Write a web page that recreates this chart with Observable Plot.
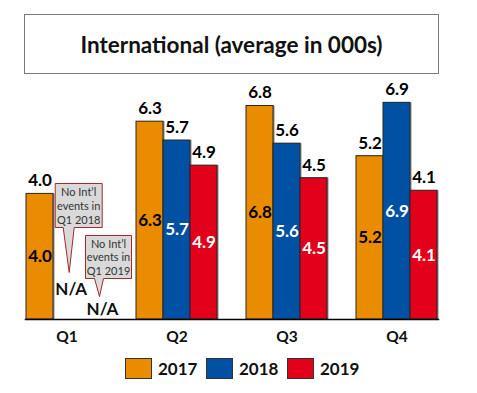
<!DOCTYPE html>
<html>
<head>
<meta charset="utf-8">
<script src="https://cdn.jsdelivr.net/npm/d3@7"></script>
<script src="https://cdn.jsdelivr.net/npm/@observablehq/plot@0.6"></script>
<style>
  html, body { margin: 0; padding: 0; background: #fff; }
  body { width: 477px; height: 393px; position: relative; font-family: Lato, "Open Sans", sans-serif; overflow: hidden; }
  #title { position: absolute; left: 24px; top: 14px; width: 413px; height: 58px; border: 1px solid #7a7a7a;
           display: flex; align-items: center; justify-content: center; font-weight: 700; font-size: 22.5px; color: #111; }
  #chart { position: absolute; left: 0; top: 78px; }
  #legend { position: absolute; top: 358px; left: 125px; display: flex; }
  .item { display: flex; align-items: center; width: 81px; font-weight: 700; font-size: 17px; color: #111; }
  .sw { width: 25px; height: 19px; border: 1px solid #333; margin-right: 6px; box-sizing: content-box; }
</style>
</head>
<body>
<div id="title"></div>
<div id="chart"></div>
<div id="legend"></div>
<script>
// ---- data ----
const titleText = "International (average in 000s)";
const quarters = ["Q1", "Q2", "Q3", "Q4"];
const years = ["2017", "2018", "2019"];
const values2017 = [4.0, 6.3, 6.8, 5.2];
const values2018 = [null, 5.7, 5.6, 6.9];
const values2019 = [null, 4.9, 4.5, 4.1];
const naText = "N/A";
const noteTexts = ["No Int’l\nevents in\nQ1 2018", "No Int’l\nevents in\nQ1 2019"];

// ---- styles ----
const colors = ["#EA8C00", "#0051A3", "#E2001A"];
const insideInk = ["#000000", "#ffffff", "#ffffff"];

const series = [values2017, values2018, values2019];
const rows = [];
quarters.forEach((q, qi) => years.forEach((y, yi) => rows.push({quarter: q, year: y, yi, value: series[yi][qi]})));
const valid = rows.filter(d => d.value != null);
const missing = rows.filter(d => d.value == null);

// callout layout (pixel offsets relative to the missing bar's slot at the baseline)
const noteLayout = [
  {dx: 2.2, dy: -47, left: -14, right: 33, boxH: 44, ptr: 45, baseL: -6, baseR: 5},
  {dx: 5.5, dy: -23, left: -14, right: 32, boxH: 43, ptr: 18, baseL: -5, baseR: 4}
];
const naLayout = [{dx: 4.2, dy: -30}, {dx: 8.5, dy: -10}];

function calloutSymbol(L) {
  return {
    draw(ctx) {
      const yb = -L.ptr, yt = -L.ptr - L.boxH;
      ctx.moveTo(0, 0);
      ctx.lineTo(L.baseR, yb);
      ctx.lineTo(L.right, yb);
      ctx.lineTo(L.right, yt);
      ctx.lineTo(L.left, yt);
      ctx.lineTo(L.left, yb);
      ctx.lineTo(L.baseL, yb);
      ctx.closePath();
    }
  };
}

const fmt = d => d.value.toFixed(1);
const labelSize = 17;

const marks = [
  Plot.barY(valid, {fx: "quarter", x: "year", y: "value", fill: "#8a8a8a", dx: 1.5}),
  Plot.barY(valid, {fx: "quarter", x: "year", y: "value", fill: "year", stroke: "#262626", strokeWidth: 1}),
  Plot.frame({anchor: "bottom", stroke: "#000", strokeWidth: 1.5, facet: "super"}),
  Plot.text(valid, {fx: "quarter", x: "year", y: "value", text: fmt, dy: -13, fontSize: labelSize, fontWeight: "bold", fill: "#000"}),
  Plot.text(valid.filter(d => insideInk[d.yi] === "#000000"), {fx: "quarter", x: "year", y: d => d.value / 2, text: fmt, fontSize: labelSize, fontWeight: "bold", fill: "#000000"}),
  Plot.text(valid.filter(d => insideInk[d.yi] === "#ffffff"), {fx: "quarter", x: "year", y: d => d.value / 2, text: fmt, fontSize: labelSize, fontWeight: "bold", fill: "#ffffff"}),
  ...missing.map((d, i) => Plot.text([d], {fx: "quarter", x: "year", y: () => 0, text: () => naText, dx: naLayout[i].dx, dy: naLayout[i].dy, fontSize: labelSize, fontWeight: "bold", fill: "#111"})),
  ...missing.map((d, i) => Plot.dot([d], {fx: "quarter", x: "year", y: () => 0, symbol: calloutSymbol(noteLayout[i]), r: 5, fill: "#D9D9D9", stroke: "#A5282C", strokeWidth: 1, dx: noteLayout[i].dx, dy: noteLayout[i].dy})),
  ...missing.map((d, i) => {
    const L = noteLayout[i];
    return Plot.text([d], {fx: "quarter", x: "year", y: () => 0, text: () => noteTexts[i], lineAnchor: "middle", lineHeight: 1.27,
      dx: L.dx + (L.left + L.right) / 2, dy: L.dy - L.ptr - L.boxH / 2, fontSize: 11, fill: "#333"});
  }),
  Plot.axisFx({anchor: "bottom", tickSize: 0, tickPadding: 11, fontSize: 15.5, fontWeight: "bold", label: null})
];

const chart = Plot.plot({
  width: 477,
  height: 268,
  marginLeft: 24,
  marginRight: 38,
  marginTop: 0,
  marginBottom: 27,
  fx: {domain: quarters, paddingInner: 0.25, paddingOuter: 0, label: null},
  x: {domain: years, padding: 0, axis: null},
  y: {domain: [0, 7.675], axis: null},
  color: {domain: years, range: colors},
  style: {fontFamily: "Lato, 'Open Sans', sans-serif", overflow: "visible", background: "transparent", color: "#111"},
  marks
});
document.getElementById("chart").append(chart);

document.getElementById("title").textContent = titleText;
const legend = document.getElementById("legend");
years.forEach((y, i) => {
  const item = document.createElement("div");
  item.className = "item";
  const sw = document.createElement("div");
  sw.className = "sw";
  sw.style.background = colors[i];
  item.append(sw, document.createTextNode(y));
  legend.append(item);
});
</script>
</body>
</html>
